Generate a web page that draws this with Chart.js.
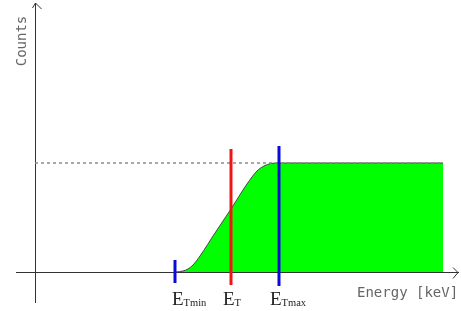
<!DOCTYPE html>
<html>
<head>
<meta charset="utf-8">
<script src="https://cdn.jsdelivr.net/npm/chart.js@4"></script>
<style>
html,body{margin:0;padding:0;background:#fff;}
#wrap{width:461px;height:311px;position:relative;}
</style>
</head>
<body>
<div id="wrap"><canvas id="c"></canvas></div>
<script>
// Detector efficiency curve (energy in arbitrary units, counts in arbitrary units)
const curveEnergy = [141, 148, 153, 158, 165, 180, 196, 212, 222, 229, 236, 244, 408];
const curveCounts = [0, 1, 3, 7, 16, 39, 63, 88, 101, 106, 108.5, 109, 109];
const plateauCount = 109;
const plateauEnd = 408;

const markerNames = ['Tmin', 'T', 'Tmax'];
const markerEnergy = [140, 196, 244];
const markerTop = [12, 123, 126];
const markerBottom = [-11, -13, -14];
const markerColors = ['#0a0ad8', '#ee1515', '#0a0ad8'];
const labelShift = [-3, -8, -9];

const xTitle = 'Energy [keV]';
const yTitle = 'Counts';

const datasets = [];
datasets.push({
  data: curveEnergy.map((e, i) => ({x: e, y: curveCounts[i]})),
  borderColor: '#444', borderWidth: 1, backgroundColor: '#00ff00',
  fill: 'origin', pointRadius: 0, cubicInterpolationMode: 'monotone', order: 3
});
datasets.push({
  data: [{x: 0, y: plateauCount}, {x: plateauEnd, y: plateauCount}],
  borderColor: '#8a8a8a', borderWidth: 1.5, borderDash: [3, 3],
  pointRadius: 0, fill: false, order: 2
});
markerEnergy.forEach((e, i) => {
  datasets.push({
    data: [{x: e, y: markerBottom[i]}, {x: e, y: markerTop[i]}],
    borderColor: markerColors[i], borderWidth: 3, pointRadius: 0, fill: false, order: 1
  });
});

const decor = {
  id: 'decor',
  afterDraw(chart) {
    const ctx = chart.ctx, a = chart.chartArea;
    const xs = chart.scales.x, ys = chart.scales.y;
    const x0 = Math.round(xs.getPixelForValue(0)) + 0.5;
    const y0 = Math.round(ys.getPixelForValue(0)) + 0.5;
    ctx.save();
    ctx.strokeStyle = '#333'; ctx.lineWidth = 1;
    // y arrow
    ctx.beginPath();
    ctx.moveTo(x0 - 3, a.top + 5); ctx.lineTo(x0, a.top); ctx.lineTo(x0 + 6, a.top + 6);
    // x arrow
    ctx.moveTo(a.right - 5, y0 - 5); ctx.lineTo(a.right, y0); ctx.lineTo(a.right - 5, y0 + 6);
    ctx.stroke();
    // titles
    ctx.fillStyle = '#666';
    ctx.font = '14px "DejaVu Sans Mono"';
    ctx.textBaseline = 'alphabetic'; ctx.textAlign = 'left';
    ctx.fillText(xTitle, 357, 297);
    ctx.save();
    ctx.translate(26, 41); ctx.rotate(-Math.PI / 2);
    ctx.textAlign = 'center';
    ctx.fillText(yTitle, 0, 0);
    ctx.restore();
    // marker labels
    ctx.fillStyle = '#222';
    markerEnergy.forEach((e, i) => {
      const px = xs.getPixelForValue(e) + labelShift[i];
      ctx.font = '19px "Liberation Serif"';
      ctx.textAlign = 'left';
      ctx.fillText('E', px, 305);
      const w = ctx.measureText('E').width;
      ctx.font = '10.5px "Liberation Serif"';
      ctx.fillText(markerNames[i], px + w, 306);
    });
    ctx.restore();
  }
};

new Chart(document.getElementById('c'), {
  type: 'scatter',
  data: {datasets},
  options: {
    responsive: true, maintainAspectRatio: false, animation: false,
    layout: {padding: {left: 16, right: 3, top: 3, bottom: 9}},
    plugins: {legend: {display: false}, tooltip: {enabled: false}},
    elements: {line: {tension: 0}},
    showLine: true,
    scales: {
      x: {type: 'linear', min: -19, max: 423, position: {y: 0},
          grid: {display: false}, ticks: {display: false},
          border: {display: true, color: '#333', width: 1}},
      y: {type: 'linear', min: -30, max: 269, position: {x: 0},
          grid: {display: false}, ticks: {display: false},
          border: {display: true, color: '#333', width: 1}}
    }
  },
  plugins: [decor]
});
</script>
</body>
</html>
